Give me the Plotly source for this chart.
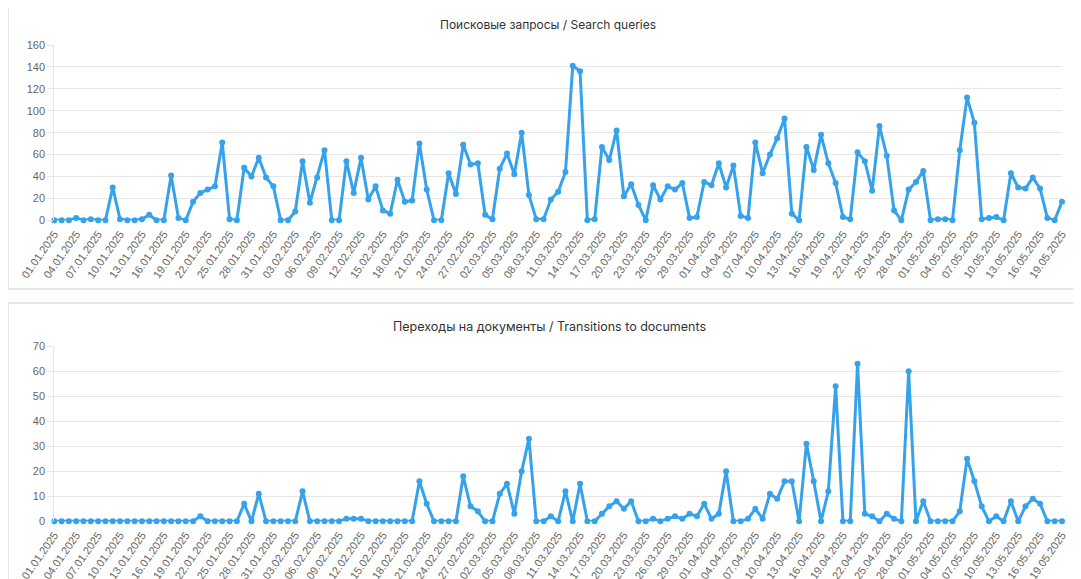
import datetime as dt
import plotly.graph_objects as go

# Categories: daily dates 01.01.2025 .. 19.05.2025
start = dt.date(2025, 1, 1)
dates = [(start + dt.timedelta(days=i)).strftime("%d.%m.%Y") for i in range(139)]

search_queries = [
    0, 0, 0, 2, 0, 1, 0, 0, 30, 1,
    0, 0, 1, 5, 0, 0, 41, 2, 0, 17,
    25, 28, 31, 71, 1, 0, 48, 40, 57, 39,
    31, 0, 0, 8, 54, 16, 39, 64, 0, 0,
    54, 25, 57, 19, 31, 9, 6, 37, 17, 18,
    70, 28, 0, 0, 43, 24, 69, 51, 52, 5,
    1, 47, 61, 42, 80, 23, 1, 1, 19, 26,
    44, 141, 136, 0, 1, 67, 55, 82, 22, 33,
    14, 0, 32, 19, 31, 28, 34, 2, 3, 35,
    32, 52, 30, 50, 4, 2, 71, 43, 60, 75,
    93, 6, 0, 67, 46, 78, 52, 34, 3, 1,
    62, 54, 27, 86, 59, 9, 0, 28, 35, 45,
    0, 1, 1, 0, 64, 112, 89, 1, 2, 3,
    0, 43, 30, 29, 39, 29, 2, 0, 17,
]

transitions = [
    0, 0, 0, 0, 0, 0, 0, 0, 0, 0,
    0, 0, 0, 0, 0, 0, 0, 0, 0, 0,
    2, 0, 0, 0, 0, 0, 7, 0, 11, 0,
    0, 0, 0, 0, 12, 0, 0, 0, 0, 0,
    1, 1, 1, 0, 0, 0, 0, 0, 0, 0,
    16, 7, 0, 0, 0, 0, 18, 6, 4, 0,
    0, 11, 15, 3, 20, 33, 0, 0, 2, 0,
    12, 0, 15, 0, 0, 3, 6, 8, 5, 8,
    0, 0, 1, 0, 1, 2, 1, 3, 2, 7,
    1, 3, 20, 0, 0, 1, 5, 1, 11, 9,
    16, 16, 0, 31, 16, 0, 12, 54, 0, 0,
    63, 3, 2, 0, 3, 1, 0, 60, 0, 8,
    0, 0, 0, 0, 4, 25, 16, 6, 0, 2,
    0, 8, 0, 6, 9, 7, 0, 0, 0,
]

title_top = "Поисковые запросы / Search queries"
title_bottom = "Переходы на документы / Transitions to documents"

# The page body has an 8px margin; the figure is placed at (8, 8).
OFF = 8
W, H = 1081 - OFF, 579 - OFF
LINE = "rgb(54,162,235)"
GRID = "#e6e6e6"
TICK = "#666666"


def px(x):
    return (x - OFF) / W


def py(y):
    return 1 - (y - OFF) / H


fig = go.Figure()
fig.add_trace(go.Scatter(
    x=dates, y=search_queries, mode="lines+markers", xaxis="x", yaxis="y",
    line=dict(color=LINE, width=3), marker=dict(color=LINE, size=6),
    cliponaxis=False, showlegend=False,
))
fig.add_trace(go.Scatter(
    x=dates, y=transitions, mode="lines+markers", xaxis="x2", yaxis="y2",
    line=dict(color=LINE, width=3), marker=dict(color=LINE, size=6),
    cliponaxis=False, showlegend=False,
))

tickvals = dates[::3]
xcommon = dict(
    type="category", range=[0, 138], tickmode="array", tickvals=tickvals,
    tickangle=-55, tickfont=dict(family="Liberation Sans, Arial", size=11, color=TICK),
    showgrid=False, zeroline=False, showline=False, ticks="outside", ticklen=2,
    tickcolor="rgba(0,0,0,0)", fixedrange=True, automargin=False,
)
ycommon = dict(
    showgrid=True, gridcolor=GRID, gridwidth=1, zeroline=False,
    showline=True, linecolor=GRID, linewidth=1,
    ticks="outside", ticklen=6, tickcolor=GRID, automargin=False,
    tickfont=dict(family="Liberation Sans, Arial", size=11, color=TICK),
)

fig.update_layout(
    width=W, height=H,
    margin=dict(l=0, r=0, t=0, b=0, autoexpand=False),
    paper_bgcolor="white", plot_bgcolor="white",
    xaxis=dict(domain=[px(54.3), px(1062)], anchor="y", **xcommon),
    yaxis=dict(domain=[py(220.3), py(45)], anchor="x", range=[0, 160], dtick=20, **ycommon),
    xaxis2=dict(domain=[px(54.3), px(1062)], anchor="y2", **xcommon),
    yaxis2=dict(domain=[py(521.3), py(346.3)], anchor="x2", range=[0, 70], dtick=10, **ycommon),
    annotations=[
        dict(text=title_top, xref="paper", yref="paper", x=px(548), y=py(24),
             showarrow=False, font=dict(family="Inter, Roboto", size=12, color="#333333"),
             xanchor="center", yanchor="middle"),
        dict(text=title_bottom, xref="paper", yref="paper", x=px(549), y=py(326),
             showarrow=False, font=dict(family="Inter, Roboto", size=12.5, color="#333333"),
             xanchor="center", yanchor="middle"),
    ],
    shapes=[
        dict(type="line", xref="paper", yref="paper", x0=px(8), x1=px(8), y0=py(8), y1=py(289),
             line=dict(color="#dddddd", width=1.5)),
        dict(type="line", xref="paper", yref="paper", x0=px(8), x1=1.0, y0=py(289), y1=py(289),
             line=dict(color="#dddddd", width=1.5)),
        dict(type="line", xref="paper", yref="paper", x0=px(8), x1=1.0, y0=py(303), y1=py(303),
             line=dict(color="#dddddd", width=1.5)),
        dict(type="line", xref="paper", yref="paper", x0=px(8), x1=px(8), y0=py(303), y1=0,
             line=dict(color="#dddddd", width=1.5)),
    ],
)

fig.write_html("out.html")
